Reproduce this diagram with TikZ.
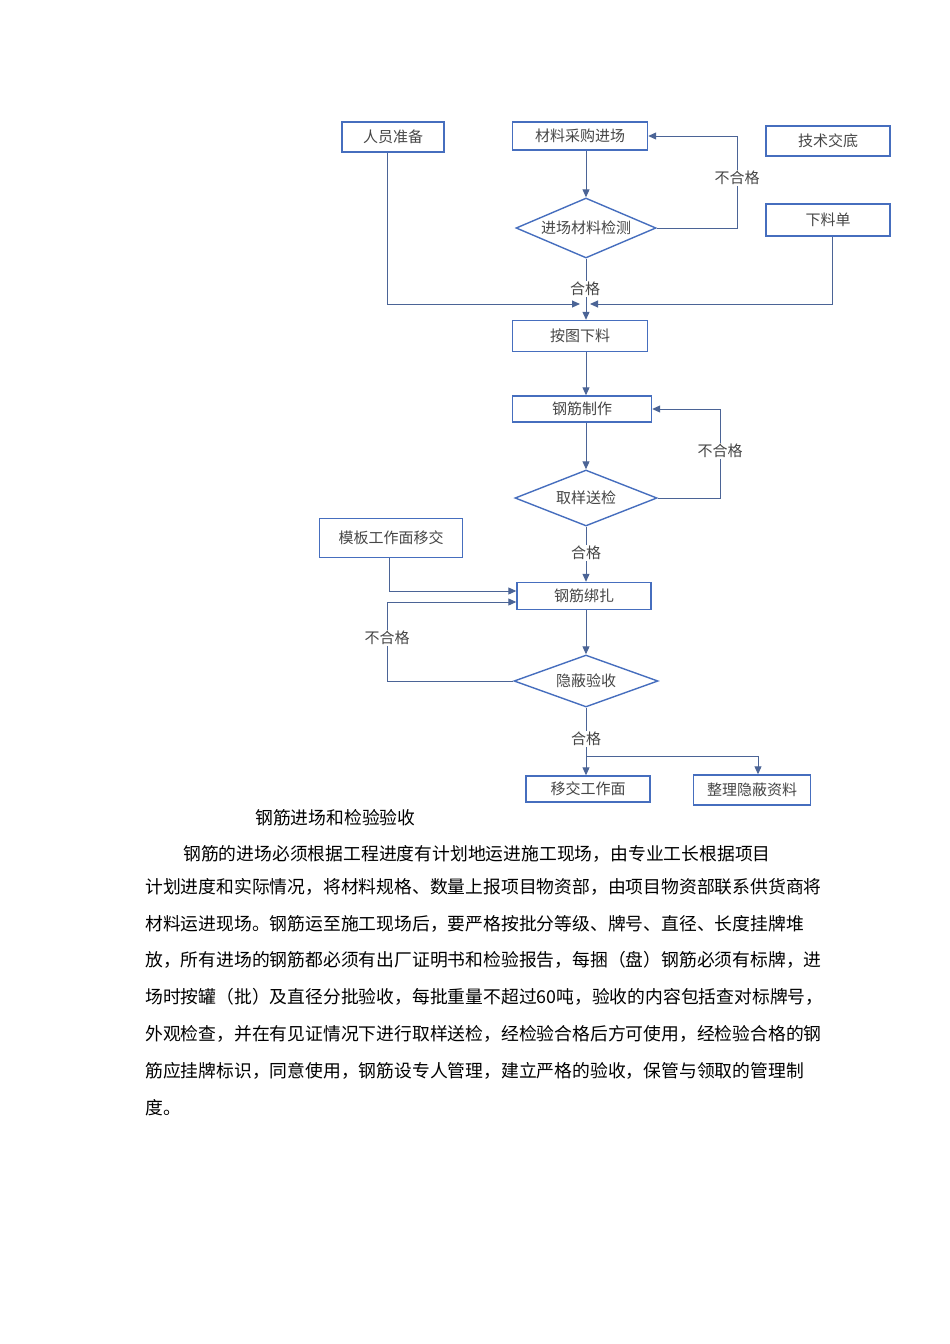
\documentclass[tikz,border=0pt]{standalone}
\usepackage{fontspec}
\setmainfont{Noto Sans CJK SC}
\usetikzlibrary{shapes.geometric,arrows.meta}
\definecolor{bd}{RGB}{70,110,190}
\definecolor{ln}{RGB}{75,100,150}
\definecolor{tx}{RGB}{70,70,70}
\begin{document}
\begin{tikzpicture}[x=1pt,y=-1pt,
 box/.style={draw=bd,line width=1.4pt,fill=white,inner sep=0pt,font=\fontsize{15}{15}\selectfont,text=tx},
 dia/.style={diamond,draw=bd,line width=1.4pt,fill=white,aspect=2.4,inner sep=0pt,font=\fontsize{15}{15}\selectfont,text=tx},
 con/.style={draw=ln,line width=1pt},
 arr/.style={con,-{Triangle[length=8pt,width=7pt]}},
 lab/.style={font=\fontsize{15}{15}\selectfont,text=tx,fill=white,inner sep=1pt},
 para/.style={font=\fontsize{17.8}{17.8}\selectfont,anchor=west,inner sep=0pt}]
\useasboundingbox (0,0) rectangle (950,1344);
\node[box,minimum width=102,minimum height=30] (ry) at (393,137) {人员准备};
\node[box,minimum width=135,minimum height=28] (cl) at (580,136) {材料采购进场};
\node[box,minimum width=124,minimum height=30] (js) at (828,141) {技术交底};
\node[box,minimum width=124,minimum height=32] (xl) at (828,220) {下料单};
\node[dia,minimum width=140,minimum height=60] (jc) at (586,228) {进场材料检测};
\node[box,minimum width=135,minimum height=31] (at) at (580,336) {按图下料};
\node[box,minimum width=139,minimum height=26] (zz) at (582,409) {钢筋制作};
\node[dia,minimum width=142,minimum height=56] (qy) at (586,498) {取样送检};
\node[box,minimum width=143,minimum height=39] (mb) at (391,538) {模板工作面移交};
\node[box,minimum width=134,minimum height=27] (bz) at (584,596) {钢筋绑扎};
\node[dia,minimum width=144,minimum height=52] (yb) at (586,681) {隐蔽验收};
\node[box,minimum width=124,minimum height=26] (yj) at (588,789) {移交工作面};
\node[box,minimum width=117,minimum height=30] (zl) at (752,790) {整理隐蔽资料};
\coordinate (m) at (586,304);
\coordinate (w) at (586,756);
% connectors
\draw[arr] (cl.south -| 586,0) -- (jc.north);
\draw[arr] (jc.east) -- (737,228) -- (737,136) -- (cl.east);
\draw[con] (jc.south) -- (m);
\draw[arr] (ry.south -| 387,0) -- (387,304) -- (580,304);
\draw[arr] (xl.south -| 832,0) -- (832,304) -- (590,304);
\draw[arr] (m) -- (at.north -| 586,0);
\draw[arr] (at.south -| 586,0) -- (zz.north -| 586,0);
\draw[arr] (zz.south -| 586,0) -- (qy.north);
\draw[arr] (qy.east) -- (720,498) -- (720,409) -- (zz.east);
\draw[arr] (qy.south) -- (bz.north -| 586,0);
\draw[arr] (mb.south -| 389,0) -- (389,591) -- (bz.west |- 0,591);
\draw[arr] (yb.west) -- (387,681) -- (387,602) -- (bz.west |- 0,602);
\draw[arr] (bz.south -| 586,0) -- (yb.north);
\draw[con] (yb.south) -- (w);
\draw[arr] (w) -- (yj.north -| 586,0);
\draw[arr] (w) -- (758,756) -- (zl.north -| 758,0);
\node[lab] at (737,178) {不合格};
\node[lab] at (585,289) {合格};
\node[lab] at (720,451) {不合格};
\node[lab] at (586,553) {合格};
\node[lab] at (387,638) {不合格};
\node[lab] at (586,739) {合格};
\node[para] (cap) at (255,818) {钢筋进场和检验验收};
\node[para] (p1) at (183,854) {钢筋的进场必须根据工程进度有计划地运进施工现场，由专业工长根据项目};
\node[para] (p2) at (145,887) {计划进度和实际情况，将材料规格、数量上报项目物资部，由项目物资部联系供货商将};
\node[para] (p3) at (145,924) {材料运进现场。钢筋运至施工现场后，要严格按批分等级、牌号、直径、长度挂牌堆};
\node[para] (p4) at (145,960) {放，所有进场的钢筋都必须有出厂证明书和检验报告，每捆（盘）钢筋必须有标牌，进};
\node[para] (p5) at (145,997) {场时按罐（批）及直径分批验收，每批重量不超过60吨，验收的内容包括查对标牌号，};
\node[para] (p6) at (145,1034) {外观检查，并在有见证情况下进行取样送检，经检验合格后方可使用，经检验合格的钢};
\node[para] (p7) at (145,1071) {筋应挂牌标识，同意使用，钢筋设专人管理，建立严格的验收，保管与领取的管理制};
\node[para] (p8) at (145,1108) {度。};
\end{tikzpicture}
\end{document}
